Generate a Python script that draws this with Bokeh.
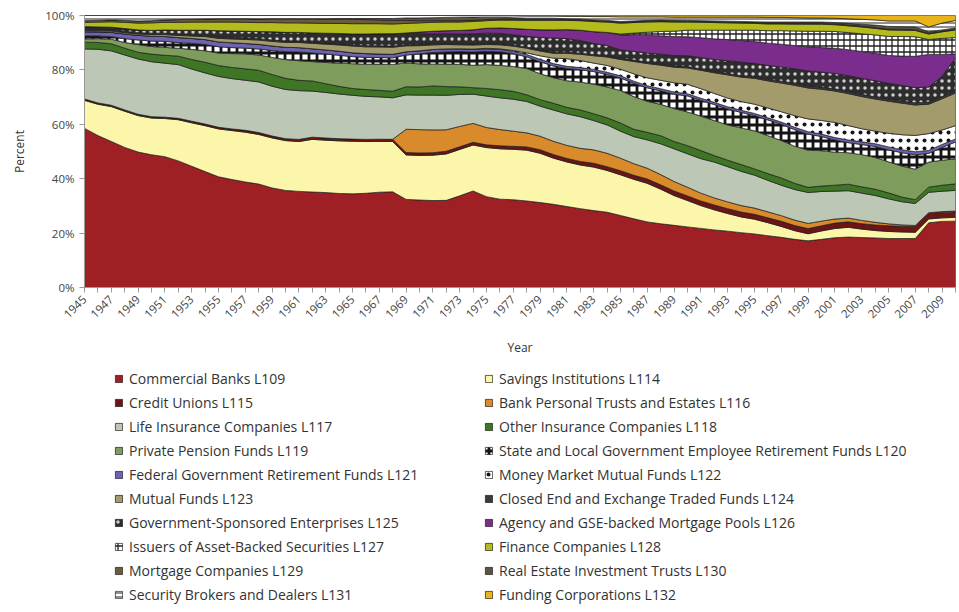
import math
import numpy as np
from bokeh.plotting import figure
from bokeh.layouts import column
from bokeh.models import Range1d, FixedTicker, Legend, LegendItem
from bokeh.embed import file_html
from bokeh.resources import INLINE

years = list(range(1945, 2011))

# Shares (percent) by year, 1945-2010
commercial_banks = [58.5, 55.8, 53.7, 51.5, 49.8,
    48.8, 48.0, 46.4, 44.4, 42.4, 40.7, 39.7, 38.8, 38.0, 36.6,
    35.7, 35.3, 35.0, 34.8, 34.5, 34.4, 34.6, 34.9, 35.0, 32.3,
    32.2, 32.0, 32.1, 33.8, 35.7, 33.5, 32.6, 32.4, 32.0, 31.4,
    30.6, 29.8, 28.9, 28.1, 27.6, 26.4, 25.4, 24.3, 23.6, 23.0,
    22.3, 21.8, 21.2, 20.8, 20.2, 19.7, 19.1, 18.5, 17.8, 17.2,
    17.7, 18.4, 18.6, 18.3, 18.1, 18.0, 18.0, 18.0, 23.8, 24.3,
    24.4]
savings_institutions = [10.3, 11.5, 12.8, 13.3, 13.4,
    13.5, 14.0, 15.1, 15.9, 16.8, 17.6, 18.0, 18.3, 18.2, 18.4,
    18.3, 18.3, 19.3, 19.2, 19.3, 19.3, 19.0, 18.6, 18.4, 16.3,
    16.4, 16.7, 17.1, 17.1, 17.0, 18.1, 18.6, 18.6, 18.8, 18.2,
    17.0, 16.4, 16.0, 15.9, 15.3, 14.9, 14.6, 14.3, 12.8, 11.0,
    9.7, 8.4, 7.4, 6.5, 5.8, 5.4, 4.8, 4.0, 3.2, 2.6,
    3.1, 3.4, 3.6, 3.1, 2.7, 2.6, 2.4, 2.3, 1.4, 1.3,
    1.4]
credit_unions = [0.5, 0.5, 0.5, 0.5, 0.5,
    0.5, 0.5, 0.5, 0.6, 0.6, 0.6, 0.6, 0.7, 0.7, 0.7,
    0.7, 0.8, 0.8, 0.8, 0.8, 0.8, 0.8, 0.8, 0.8, 0.9,
    0.9, 0.9, 1.0, 1.0, 1.0, 1.0, 1.1, 1.1, 1.2, 1.3,
    1.3, 1.3, 1.3, 1.4, 1.4, 1.5, 1.5, 1.6, 1.6, 1.7,
    1.7, 1.7, 1.8, 1.8, 1.8, 1.8, 1.8, 1.9, 1.9, 1.9,
    1.9, 2.0, 2.0, 2.0, 2.0, 2.1, 2.1, 2.1, 2.0, 2.0,
    2.0]
bank_trusts = [0, 0, 0, 0, 0,
    0, 0, 0, 0, 0, 0, 0, 0, 0, 0,
    0, 0, 0, 0, 0, 0, 0, 0, 0, 8.5,
    8.6, 8.4, 7.9, 7.5, 7.0, 6.4, 6.0, 5.6, 5.2, 5.0,
    4.9, 4.8, 4.8, 4.9, 4.9, 4.6, 4.3, 4.0, 3.8, 3.5,
    3.2, 2.9, 2.6, 2.5, 2.4, 2.3, 2.2, 2.1, 2.0, 1.9,
    1.7, 1.5, 1.4, 1.2, 1.0, 0.7, 0.5, 0.4, 0.3, 0.3,
    0.3]
life_insurance = [18.4, 19.7, 20.0, 20.2, 20.3,
    20.2, 19.8, 19.7, 19.1, 18.7, 18.7, 18.5, 18.4, 18.6, 18.3,
    18.1, 17.9, 16.9, 16.7, 16.4, 16.1, 15.8, 15.5, 15.2, 12.6,
    12.7, 12.8, 12.7, 11.8, 10.8, 11.6, 11.7, 11.8, 11.6, 11.1,
    11.5, 11.6, 11.6, 10.7, 10.4, 9.9, 10.0, 10.5, 11.4, 12.1,
    12.3, 12.7, 13.2, 13.0, 12.6, 12.1, 11.6, 11.2, 11.3, 11.4,
    10.9, 10.3, 10.1, 10.0, 9.8, 9.2, 8.5, 8.1, 7.5, 7.5,
    7.6]
other_insurance = [2.5, 2.5, 2.6, 2.5, 2.5,
    2.8, 2.9, 3.1, 3.5, 3.9, 4.0, 4.1, 4.2, 4.3, 4.3,
    4.1, 3.8, 3.7, 3.2, 2.8, 2.5, 2.5, 2.4, 2.4, 3.0,
    3.0, 3.4, 3.2, 2.8, 2.4, 2.8, 3.0, 2.9, 2.5, 2.4,
    2.5, 2.4, 2.5, 2.5, 2.6, 3.0, 2.7, 2.8, 3.0, 2.7,
    3.0, 3.0, 2.4, 2.4, 2.5, 2.3, 2.5, 2.7, 2.3, 1.9,
    2.0, 2.2, 2.4, 2.3, 2.3, 2.2, 1.7, 1.4, 1.9, 2.2,
    2.4]
private_pension = [1.2, 1.4, 1.7, 2.1, 2.8,
    2.8, 2.9, 2.9, 3.7, 4.2, 4.6, 5.1, 5.5, 5.6, 6.3,
    6.9, 7.2, 7.1, 7.8, 8.5, 9.1, 9.3, 9.6, 9.8, 8.7,
    8.5, 8.0, 8.3, 8.3, 8.3, 8.8, 9.0, 9.2, 9.7, 9.6,
    9.4, 9.8, 10.2, 10.8, 11.3, 11.9, 12.1, 11.5, 11.6, 12.2,
    12.4, 12.7, 12.9, 13.0, 13.5, 14.0, 14.0, 13.8, 13.7, 13.7,
    13.0, 12.2, 11.6, 11.8, 11.6, 11.4, 11.4, 11.2, 9.2, 9.2,
    9.2]
state_local = [1.1, 1.0, 0.9, 1.4, 1.7,
    2.0, 2.2, 2.1, 2.2, 2.3, 2.3, 2.2, 2.1, 2.2, 2.5,
    2.9, 3.2, 3.2, 3.1, 2.9, 2.6, 2.5, 2.4, 2.4, 2.9,
    3.7, 4.3, 4.5, 4.7, 4.9, 4.9, 5.0, 4.7, 4.3, 4.4,
    4.3, 4.5, 4.5, 4.6, 4.6, 4.6, 4.9, 5.0, 5.0, 5.3,
    5.9, 5.8, 5.9, 5.9, 5.7, 5.6, 5.8, 6.0, 6.1, 5.9,
    5.2, 4.5, 3.7, 3.7, 4.0, 4.4, 4.9, 5.3, 3.2, 4.7,
    6.2]
federal_retirement = [1.5, 1.5, 1.6, 1.7, 1.7,
    1.8, 1.8, 1.8, 1.8, 1.8, 1.8, 1.8, 1.7, 1.7, 1.7,
    1.6, 1.6, 1.5, 1.5, 1.5, 1.4, 1.4, 1.3, 1.3, 1.2,
    1.1, 1.1, 1.1, 1.0, 1.0, 0.9, 0.9, 0.9, 0.9, 0.9,
    0.9, 0.8, 0.8, 0.8, 0.8, 0.8, 0.8, 0.8, 0.8, 0.8,
    0.8, 0.8, 0.8, 0.8, 0.8, 0.8, 0.8, 0.8, 0.9, 0.9,
    0.9, 0.9, 1.0, 1.0, 1.0, 1.1, 1.1, 1.1, 1.1, 1.1,
    1.1]
money_market = [0, 0, 0, 0, 0,
    0, 0, 0, 0, 0, 0, 0, 0, 0, 0,
    0, 0, 0, 0, 0, 0, 0, 0, 0, 0,
    0, 0, 0, 0, 0.1, 0.2, 0.2, 0.3, 0.6, 1.3,
    2.0, 2.8, 2.6, 2.3, 2.5, 2.4, 2.7, 2.9, 3.1, 3.4,
    3.5, 3.5, 3.3, 3.2, 3.2, 3.4, 3.6, 3.8, 4.3, 4.7,
    5.0, 5.6, 5.3, 4.8, 4.6, 5.0, 5.5, 6.0, 6.2, 5.3,
    4.9]
mutual_funds = [0.4, 0.4, 0.5, 0.5, 0.5,
    0.6, 0.7, 0.8, 0.9, 1.1, 1.3, 1.4, 1.5, 1.6, 1.7,
    1.8, 1.9, 2.0, 2.1, 2.3, 2.5, 2.5, 2.6, 2.6, 2.2,
    1.9, 1.7, 1.6, 1.5, 1.5, 1.4, 1.5, 1.6, 1.7, 1.8,
    1.8, 2.0, 2.3, 2.7, 3.1, 3.6, 4.6, 5.3, 5.6, 5.8,
    6.0, 6.8, 7.6, 8.6, 9.0, 9.5, 10.0, 10.6, 11.2, 11.4,
    11.5, 11.6, 11.8, 11.8, 11.7, 11.8, 11.6, 11.2, 10.8, 11.5,
    12.0]
closed_end = [0.5, 0.5, 0.5, 0.5, 0.5,
    0.5, 0.5, 0.5, 0.5, 0.5, 0.5, 0.5, 0.5, 0.5, 0.5,
    0.5, 0.4, 0.4, 0.4, 0.4, 0.4, 0.4, 0.4, 0.4, 0.4,
    0.4, 0.4, 0.4, 0.4, 0.4, 0.4, 0.4, 0.4, 0.4, 0.4,
    0.4, 0.4, 0.4, 0.4, 0.4, 0.4, 0.5, 0.5, 0.5, 0.5,
    0.5, 0.5, 0.5, 0.5, 0.5, 0.5, 0.6, 0.7, 0.7, 0.8,
    0.8, 0.8, 0.8, 0.8, 0.8, 0.8, 0.8, 0.8, 0.8, 0.8,
    0.9]
gse = [1.0, 0.9, 0.9, 1.0, 1.0,
    1.0, 1.2, 1.4, 1.6, 1.8, 2.3, 2.4, 2.5, 2.6, 3.0,
    3.2, 3.3, 3.4, 3.6, 3.8, 4.0, 4.3, 4.4, 4.5, 4.3,
    4.0, 3.7, 3.6, 3.6, 3.7, 3.8, 3.8, 3.8, 4.0, 4.6,
    5.2, 5.0, 4.6, 4.1, 3.8, 3.1, 3.2, 3.4, 3.6, 3.8,
    4.0, 4.2, 4.4, 4.7, 5.0, 5.0, 5.1, 5.2, 5.4, 5.5,
    5.5, 5.7, 5.8, 5.9, 5.9, 5.8, 5.7, 5.6, 5.5, 7.5,
    12.0]
agency_pools = [0, 0, 0, 0, 0,
    0, 0, 0, 0, 0, 0, 0, 0, 0, 0,
    0, 0, 0, 0, 0, 0, 0, 0, 0, 0,
    0.6, 0.9, 1.1, 1.3, 1.5, 1.8, 2.0, 2.3, 2.6, 2.8,
    3.0, 3.3, 3.8, 4.3, 4.8, 5.5, 6.0, 6.5, 6.8, 7.0,
    7.0, 7.3, 7.6, 7.8, 8.0, 8.0, 8.2, 8.4, 8.6, 8.9,
    9.0, 9.3, 9.6, 9.8, 10.0, 10.2, 10.8, 11.5, 12.0, 8.0,
    1.5]
abs_issuers = [0, 0, 0, 0, 0,
    0, 0, 0, 0, 0, 0, 0, 0, 0, 0,
    0, 0, 0, 0, 0, 0, 0, 0, 0, 0,
    0, 0, 0, 0, 0, 0, 0, 0, 0, 0,
    0, 0, 0, 0, 0, 0.3, 0.8, 1.2, 1.6, 2.0,
    2.4, 2.8, 3.2, 3.5, 3.8, 4.2, 4.6, 5.0, 5.4, 5.7,
    6.0, 6.2, 6.3, 6.5, 6.7, 7.0, 7.2, 7.2, 5.5, 5.9,
    6.0]
finance_cos = [1.6, 1.8, 2.0, 2.3, 2.5,
    2.8, 2.8, 2.9, 3.0, 3.0, 3.2, 3.3, 3.3, 3.3, 3.4,
    3.5, 3.5, 3.6, 3.6, 3.7, 3.8, 3.8, 3.7, 3.6, 3.5,
    3.4, 3.3, 3.2, 3.1, 3.1, 2.8, 2.9, 3.1, 3.3, 3.5,
    3.5, 3.4, 3.5, 3.7, 3.8, 4.0, 3.9, 3.8, 3.6, 3.4,
    3.0, 2.9, 2.8, 2.7, 2.6, 2.5, 2.5, 2.5, 2.5, 2.6,
    2.6, 2.5, 2.5, 2.5, 2.4, 2.4, 2.3, 2.3, 2.0, 2.4,
    2.8]
mortgage_cos = [0.6, 0.6, 0.7, 0.7, 0.8,
    0.8, 0.9, 1.0, 1.0, 1.1, 1.2, 1.2, 1.3, 1.3, 1.4,
    1.5, 1.5, 1.6, 1.6, 1.6, 1.6, 1.5, 1.4, 1.3, 1.1,
    0.8, 0.6, 0.5, 0.5, 0.4, 0.4, 0.4, 0.4, 0.4, 0.4,
    0.4, 0.3, 0.3, 0.3, 0.3, 0.3, 0.3, 0.3, 0.3, 0.3,
    0.3, 0.3, 0.3, 0.3, 0.3, 0.3, 0.3, 0.3, 0.3, 0.3,
    0.3, 0.3, 0.3, 0.3, 0.3, 0.3, 0.3, 0.3, 0.2, 0.2,
    0.2]
reits = [0, 0, 0, 0, 0,
    0, 0, 0, 0, 0, 0, 0, 0, 0, 0,
    0, 0, 0, 0.1, 0.2, 0.3, 0.4, 0.5, 0.7, 0.9,
    1.0, 1.1, 1.2, 1.3, 1.2, 0.8, 0.6, 0.5, 0.4, 0.4,
    0.4, 0.3, 0.3, 0.3, 0.3, 0.3, 0.3, 0.3, 0.3, 0.3,
    0.3, 0.3, 0.3, 0.3, 0.3, 0.3, 0.4, 0.4, 0.5, 0.5,
    0.5, 0.5, 0.6, 0.7, 0.9, 1.0, 1.0, 1.0, 0.6, 0.5,
    0.5]
brokers = [1.9, 1.8, 1.6, 1.8, 2.0,
    1.9, 1.6, 1.5, 1.4, 1.3, 1.2, 1.2, 1.2, 1.3, 1.2,
    1.2, 1.2, 1.2, 1.2, 1.1, 1.1, 1.1, 1.1, 1.1, 0.9,
    0.9, 0.8, 0.7, 0.6, 0.6, 0.6, 0.6, 0.7, 0.8, 0.8,
    0.8, 0.9, 1.0, 1.2, 1.4, 1.7, 1.5, 1.3, 1.2, 1.2,
    1.2, 1.3, 1.4, 1.5, 1.6, 1.7, 1.7, 1.7, 1.6, 1.5,
    1.5, 1.6, 1.7, 1.8, 1.9, 2.0, 2.1, 2.2, 1.8, 2.5,
    2.8]
funding_corps = [0, 0, 0, 0, 0,
    0, 0, 0, 0, 0, 0, 0, 0, 0, 0,
    0, 0, 0, 0, 0, 0, 0, 0, 0, 0,
    0, 0, 0, 0, 0, 0.1, 0.1, 0.1, 0.2, 0.2,
    0.2, 0.3, 0.3, 0.4, 0.4, 0.5, 0.5, 0.5, 0.5, 0.6,
    0.6, 0.6, 0.6, 0.6, 0.6, 0.6, 0.7, 0.7, 0.8, 0.9,
    0.9, 1.0, 1.2, 1.4, 1.6, 2.0, 2.0, 2.0, 4.2, 2.8,
    1.8]

y_ticks = [0, 20, 40, 60, 80, 100]

series = [
    ("Commercial Banks L109", commercial_banks, dict(fill_color="#9e1f24")),
    ("Savings Institutions L114", savings_institutions, dict(fill_color="#fbf6a9")),
    ("Credit Unions L115", credit_unions, dict(fill_color="#6d1416")),
    ("Bank Personal Trusts and Estates L116", bank_trusts, dict(fill_color="#d98a2a")),
    ("Life Insurance Companies L117", life_insurance, dict(fill_color="#bcc7b6")),
    ("Other Insurance Companies L118", other_insurance, dict(fill_color="#3e7626")),
    ("Private Pension Funds L119", private_pension, dict(fill_color="#7e9c5b")),
    ("State and Local Government Employee Retirement Funds L120", state_local,
     dict(fill_color="white", hatch_pattern="cross", hatch_color="#151515", hatch_scale=8, hatch_weight=2.8)),
    ("Federal Government Retirement Funds L121", federal_retirement, dict(fill_color="#6c63b2")),
    ("Money Market Mutual Funds L122", money_market,
     dict(fill_color="white", hatch_pattern="dot", hatch_color="#151515", hatch_scale=8, hatch_weight=1)),
    ("Mutual Funds L123", mutual_funds, dict(fill_color="#a49b6d")),
    ("Closed End and Exchange Traded Funds L124", closed_end, dict(fill_color="#3a3a3a")),
    ("Government-Sponsored Enterprises L125", gse,
     dict(fill_color="#2d2d2d", hatch_pattern="dot", hatch_color="#cfcfcf", hatch_scale=7, hatch_weight=1)),
    ("Agency and GSE-backed Mortgage Pools L126", agency_pools, dict(fill_color="#7b2d8d")),
    ("Issuers of Asset-Backed Securities L127", abs_issuers,
     dict(fill_color="white", hatch_pattern="cross", hatch_color="#222222", hatch_scale=6, hatch_weight=1.3)),
    ("Finance Companies L128", finance_cos, dict(fill_color="#b4bc1d")),
    ("Mortgage Companies L129", mortgage_cos, dict(fill_color="#6d5b3c")),
    ("Real Estate Investment Trusts L130", reits, dict(fill_color="#5d5343")),
    ("Security Brokers and Dealers L131", brokers,
     dict(fill_color="white", hatch_pattern="horizontal_line", hatch_color="#222222", hatch_scale=4, hatch_weight=1)),
    ("Funding Corporations L132", funding_corps, dict(fill_color="#e8b41a")),
]

vals = np.array([s[1] for s in series], dtype=float)
pct = vals / vals.sum(axis=0) * 100.0
tops = np.cumsum(pct, axis=0)

W = 957
p = figure(width=W, height=360, x_range=Range1d(1945, 2010), y_range=Range1d(0, 100),
           output_backend="svg", toolbar_location=None,
           min_border_left=84, min_border_right=2, min_border_top=15, min_border_bottom=73)
p.xgrid.visible = False
p.ygrid.visible = False
p.outline_line_color = "#a8a8a8"
p.background_fill_color = "white"
p.border_fill_color = "white"

LINE = dict(line_color="#1c1c1c", line_width=0.7)
for i, (name, v, style) in enumerate(series):
    top = tops[i]
    bottom = tops[i - 1] if i > 0 else np.zeros(len(years))
    xs = years + years[::-1]
    ys = list(top) + list(bottom[::-1])
    p.patch(xs, ys, **LINE, **style)

for ax in (p.xaxis[0], p.yaxis[0]):
    ax.axis_line_color = "#9a9a9a"
    ax.major_tick_line_color = "#9a9a9a"
    ax.minor_tick_line_color = None
    ax.major_tick_in = 0
    ax.major_tick_out = 5
    ax.major_label_text_font = "Open Sans"
    ax.major_label_text_font_size = "11.5px"
    ax.major_label_text_color = "#444444"
    ax.axis_label_text_font = "Open Sans"
    ax.axis_label_text_font_size = "12px"
    ax.axis_label_text_font_style = "normal"
    ax.axis_label_text_color = "#333333"

p.xaxis.ticker = FixedTicker(ticks=years)
p.xaxis.major_label_overrides = {y: (str(y) if y % 2 == 1 else "") for y in years}
p.xaxis.major_label_orientation = math.pi / 4
p.xaxis.axis_label = "Year"
p.xaxis.axis_label_standoff = 14

p.yaxis.ticker = FixedTicker(ticks=y_ticks)
p.yaxis.major_label_overrides = {t: f"{t}%" for t in y_ticks}
p.yaxis.axis_label = "Percent"
p.yaxis.axis_label_standoff = 14

# legend panel (its frame is aligned with the chart frame, starting at x=84)
p2 = figure(width=W, height=250, x_range=Range1d(0, 1), y_range=Range1d(0, 1),
            x_axis_type=None, y_axis_type=None, output_backend="svg", toolbar_location=None,
            min_border=0)
p2.outline_line_color = None
p2.xgrid.visible = False
p2.ygrid.visible = False
p2.background_fill_color = "white"
p2.border_fill_color = "white"

key_renderers = [p2.patch(x=[-5, -5, -4], y=[-5, -4, -5], **LINE, **style) for (_, _, style) in series]

common = dict(orientation="vertical", glyph_width=9, glyph_height=9, label_height=19, spacing=5,
              padding=0, margin=0, border_line_color=None, background_fill_alpha=0,
              label_standoff=6, label_text_font="Open Sans", label_text_font_size="14px",
              label_text_color="#333333", label_text_baseline="middle")
left_items = [LegendItem(label=series[i][0], renderers=[key_renderers[i]]) for i in range(0, 20, 2)]
right_items = [LegendItem(label=series[i][0], renderers=[key_renderers[i]]) for i in range(1, 20, 2)]
p2.add_layout(Legend(items=left_items, location=(30, 6), **common))
p2.add_layout(Legend(items=right_items, location=(400, 6), **common))

open("out.html", "w").write(file_html(column(p, p2, spacing=0), INLINE))
